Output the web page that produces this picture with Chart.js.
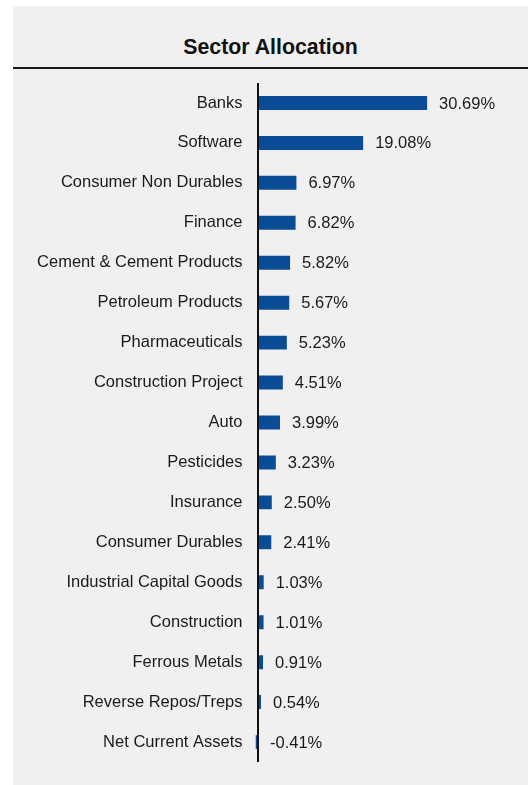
<!DOCTYPE html>
<html>
<head>
<meta charset="utf-8">
<title>Sector Allocation</title>
<script src="https://cdn.jsdelivr.net/npm/chart.js@4.4.1/dist/chart.umd.min.js"></script>
<style>
  body { margin: 0; background: #fff; font-family: "Liberation Sans", Arial, sans-serif; }
  .panel { position: absolute; left: 13px; top: 6px; width: 515px; height: 779px; background: #f0f0f0; }
  .panel h2 {
    margin: 0; height: 63px; box-sizing: border-box; padding-top: 29px;
    line-height: 24px; font-size: 21.3px; font-weight: bold; text-align: center;
    color: #111; border-bottom: 2px solid #1b1b1b;
  }
  #sectorChart { display: block; }
</style>
</head>
<body>
<div class="panel">
  <h2>Sector Allocation</h2>
  <canvas id="sectorChart" width="515" height="716"></canvas>
</div>
<script>
const sectors = [
  "Banks", "Software", "Consumer Non Durables", "Finance",
  "Cement & Cement Products", "Petroleum Products", "Pharmaceuticals",
  "Construction Project", "Auto", "Pesticides", "Insurance",
  "Consumer Durables", "Industrial Capital Goods", "Construction",
  "Ferrous Metals", "Reverse Repos/Treps", "Net Current Assets"
];
const weights = [
  30.69, 19.08, 6.97, 6.82, 5.82, 5.67, 5.23, 4.51, 3.99, 3.23,
  2.50, 2.41, 1.03, 1.01, 0.91, 0.54, -0.41
];

const fontFamily = '"Liberation Sans", Arial, sans-serif';
const fontSize = 16.5;

// writes the percentage just past the end of each bar
const valueLabels = {
  id: "valueLabels",
  afterDatasetsDraw(chart) {
    const ctx = chart.ctx;
    const meta = chart.getDatasetMeta(0);
    const zero = chart.scales.x.getPixelForValue(0);
    ctx.save();
    ctx.font = fontSize + "px " + fontFamily;
    ctx.fillStyle = "#1a1a1a";
    ctx.textAlign = "left";
    ctx.textBaseline = "middle";
    meta.data.forEach((bar, i) => {
      const x = Math.max(bar.x, zero) + 12;
      ctx.fillText(weights[i].toFixed(2) + "%", x, bar.y + 1);
    });
    ctx.restore();
  }
};

new Chart(document.getElementById("sectorChart"), {
  type: "bar",
  data: {
    labels: sectors,
    datasets: [{
      data: weights,
      backgroundColor: "#0b4c97",
      borderWidth: 0,
      barPercentage: 0.35,
      categoryPercentage: 1
    }]
  },
  options: {
    indexAxis: "y",
    responsive: false,
    animation: false,
    devicePixelRatio: 1,
    layout: { padding: { top: 14, bottom: 23, left: 0, right: 0 } },
    plugins: {
      legend: { display: false },
      title: { display: false },
      tooltip: { enabled: false }
    },
    scales: {
      x: {
        min: -1,
        max: 49,
        ticks: { display: false, stepSize: 1 },
        border: { display: false },
        grid: {
          z: 1,
          drawTicks: false,
          lineWidth: 2,
          color: c => (c.tick && c.tick.value === 0 ? "#111" : "rgba(0,0,0,0)")
        }
      },
      y: {
        border: { display: false },
        grid: { display: false, drawTicks: false },
        ticks: {
          padding: 10,
          color: "#1a1a1a",
          font: { family: fontFamily, size: fontSize }
        },
        afterFit: scale => {
          scale.width = 239.5;
          scale.paddingTop = 0;
          scale.paddingBottom = 0;
        }
      }
    }
  },
  plugins: [valueLabels]
});
</script>
</body>
</html>
